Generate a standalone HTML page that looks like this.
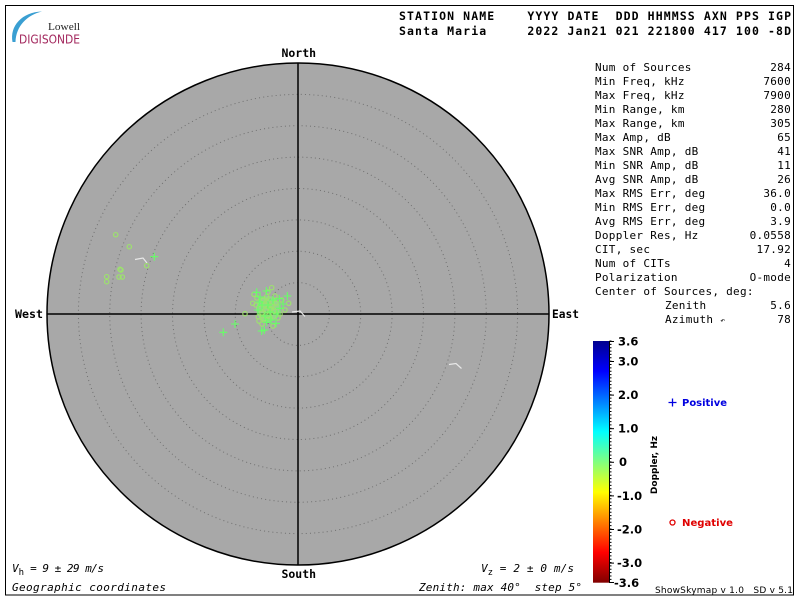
<!DOCTYPE html>
<html><head><meta charset="utf-8"><style>
html,body{margin:0;padding:0;background:#fff;}
svg{display:block;}
.m{font-family:"DejaVu Sans Mono","Liberation Mono",monospace;}
.s{font-family:"DejaVu Sans","Liberation Sans",sans-serif;}
.pre{white-space:pre;}
</style></head><body>
<svg width="800" height="600" viewBox="0 0 800 600" xmlns="http://www.w3.org/2000/svg">
<defs>
<linearGradient id="jet" x1="0" y1="0" x2="0" y2="1">
<stop offset="0" stop-color="#00008f"/>
<stop offset="0.125" stop-color="#0000ff"/>
<stop offset="0.375" stop-color="#00ffff"/>
<stop offset="0.5" stop-color="#80ff80"/>
<stop offset="0.625" stop-color="#ffff00"/>
<stop offset="0.875" stop-color="#ff0000"/>
<stop offset="1" stop-color="#800000"/>
</linearGradient>
</defs>
<rect x="0" y="0" width="800" height="600" fill="#fff"/>
<rect x="5.5" y="5.5" width="788" height="589.5" fill="none" stroke="#000" stroke-width="1"/>

<!-- logo -->
<path d="M12.5,42 C9.5,26 22,12 42,11.5 C27,15 16,26 15.5,42 Z" fill="#3a9fd2"/>
<text x="48" y="30" font-family="Liberation Serif,serif" font-size="10.5" fill="#222" textLength="32" lengthAdjust="spacingAndGlyphs">Lowell</text>
<text x="19" y="43.5" class="s" font-size="12" fill="#a3285e" textLength="61" lengthAdjust="spacingAndGlyphs">DIGISONDE</text>

<!-- header -->
<text x="399" y="20" class="m pre" font-size="11.5" font-weight="bold" textLength="392" lengthAdjust="spacing">STATION NAME    YYYY DATE  DDD HHMMSS AXN PPS IGP</text>
<text x="399" y="35" class="m pre" font-size="11.5" font-weight="bold" textLength="392" lengthAdjust="spacing">Santa Maria     2022 Jan21 021 221800 417 100 -8D</text>

<!-- skymap disk -->
<circle cx="298" cy="314" r="251" fill="#a8a8a8"/>
<g fill="none" stroke="#707070" stroke-width="1" stroke-dasharray="1 3.2">
<circle cx="298" cy="314" r="31.4"/>
<circle cx="298" cy="314" r="62.75"/>
<circle cx="298" cy="314" r="94.1"/>
<circle cx="298" cy="314" r="125.5"/>
<circle cx="298" cy="314" r="156.9"/>
<circle cx="298" cy="314" r="188.25"/>
<circle cx="298" cy="314" r="219.6"/>
</g>
<circle cx="298" cy="314" r="251" fill="none" stroke="#000" stroke-width="1.5"/>
<line x1="298" y1="63" x2="298" y2="565" stroke="#000" stroke-width="1.5"/>
<line x1="47" y1="314" x2="549" y2="314" stroke="#000" stroke-width="1.5"/>

<!-- white trails -->
<g fill="none" stroke="#e8e8e8" stroke-width="1.2">
<polyline points="135,259.5 143,258 147,263"/>
<polyline points="292,312 300,311 305,316.5"/>
<polyline points="449,364.5 456,363.5 461.5,368.5"/>
</g>

<!-- core blob -->
<ellipse cx="268" cy="309" rx="12" ry="13" fill="#8ff07a" opacity="0.6"/>

<!-- circles (negative) -->
<g fill="none" stroke="#9ce56a" stroke-width="1.1">
<circle cx="115.7" cy="234.7" r="2.2"/>
<circle cx="129.3" cy="246.7" r="2.2"/>
<circle cx="146.7" cy="265.7" r="2.2"/>
<circle cx="120" cy="269.3" r="2.2"/>
<circle cx="121" cy="270" r="2.2"/>
<circle cx="106.7" cy="276.7" r="2.2"/>
<circle cx="106.7" cy="281.7" r="2.2"/>
<circle cx="119" cy="277" r="2.2"/>
<circle cx="122.3" cy="277" r="2.2"/>
<circle cx="254" cy="294.3" r="2.2"/>
<circle cx="271.7" cy="287.7" r="2.2"/>
<circle cx="266.7" cy="296.7" r="2.2"/>
<circle cx="281.7" cy="300" r="2.2"/>
<circle cx="288.7" cy="303.3" r="2.2"/>
<circle cx="252.7" cy="303.3" r="2.2"/>
<circle cx="245" cy="313.7" r="2.2"/>
<circle cx="258.3" cy="316.7" r="2.2"/>
<circle cx="280" cy="314" r="2.2"/>
<circle cx="263" cy="300" r="2.2"/>
<circle cx="268" cy="302" r="2.2"/>
<circle cx="272" cy="306" r="2.2"/>
<circle cx="260" cy="308" r="2.2"/>
<circle cx="266" cy="310" r="2.2"/>
<circle cx="274" cy="311" r="2.2"/>
<circle cx="262" cy="313" r="2.2"/>
<circle cx="269" cy="315" r="2.2"/>
<circle cx="256" cy="305" r="2.2"/>
<circle cx="276" cy="303" r="2.2"/>
<circle cx="264" cy="319" r="2.2"/>
<circle cx="270" cy="318" r="2.2"/>
<circle cx="278" cy="318" r="2.2"/>
<circle cx="262" cy="324" r="2.2"/>
<circle cx="257" cy="298" r="2.2"/>
<circle cx="275" cy="296" r="2.2"/>
<circle cx="268" cy="292" r="2.2"/>
<circle cx="285" cy="310" r="2.2"/>
<circle cx="273" cy="326" r="2.2"/>
<circle cx="259" cy="321" r="2.2"/>
<circle cx="271" cy="309" r="2.2"/>
<circle cx="265" cy="305" r="2.2"/>
</g>

<!-- plus (positive) -->
<g fill="none" stroke="#66ff66" stroke-width="1.1">
<path d="M150.3,256.7h8M154.3,252.7v8"/>
<path d="M252.7,292.3h8M256.7,288.3v8"/>
<path d="M262.3,291h8M266.3,287v8"/>
<path d="M275.3,298.7h8M279.3,294.7v8"/>
<path d="M283.3,296h8M287.3,292v8"/>
<path d="M255.3,302h8M259.3,298v8"/>
<path d="M276,308.3h8M280,304.3v8"/>
<path d="M231,324h8M235,320v8"/>
<path d="M219.3,332.3h8M223.3,328.3v8"/>
<path d="M257.7,331h8M261.7,327v8"/>
<path d="M260.3,330h8M264.3,326v8"/>
<path d="M262.7,322.3h8M266.7,318.3v8"/>
<path d="M272,323.3h8M276,319.3v8"/>
<path d="M258,305h8M262,301v8"/>
<path d="M266,312h8M270,308v8"/>
<path d="M269,300h8M273,296v8"/>
<path d="M261,316h8M265,312v8"/>
<path d="M254,310h8M258,306v8"/>
<path d="M273,314h8M277,310v8"/>
<path d="M264,305h8M268,301v8"/>
<path d="M267,320h8M271,316v8"/>
<path d="M279,304h8M283,300v8"/>
<path d="M256,297h8M260,293v8"/>
</g>

<!-- compass labels -->
<text x="281.5" y="57" class="m" font-size="11.5" font-weight="bold" textLength="34.5" lengthAdjust="spacingAndGlyphs">North</text>
<text x="281.5" y="578" class="m" font-size="11.5" font-weight="bold" textLength="34.5" lengthAdjust="spacingAndGlyphs">South</text>
<text x="15" y="318" class="m" font-size="11.5" font-weight="bold" textLength="28" lengthAdjust="spacingAndGlyphs">West</text>
<text x="552" y="318" class="m" font-size="11.5" font-weight="bold" textLength="27" lengthAdjust="spacingAndGlyphs">East</text>

<!-- bottom-left / bottom info -->
<text x="12" y="572" class="m pre" font-size="11" font-style="italic">V<tspan font-size="9" font-style="normal" dy="3">h</tspan><tspan dy="-3" textLength="80" lengthAdjust="spacing"> = 9 ± 29 m/s</tspan></text>
<text x="12" y="591" class="m pre" font-size="11" font-style="italic" textLength="154" lengthAdjust="spacing">Geographic coordinates</text>
<text x="481" y="572" class="m pre" font-size="11" font-style="italic">V<tspan font-size="9" font-style="normal" dy="3">z</tspan><tspan dy="-3" textLength="81" lengthAdjust="spacing"> = 2 ± 0 m/s</tspan></text>
<text x="419" y="591" class="m pre" font-size="11" font-style="italic" textLength="163" lengthAdjust="spacing">Zenith: max 40°  step 5°</text>

<!-- stats -->
<g class="m pre" font-size="11" letter-spacing="0.28" fill="#000">
<text x="595" y="71">Num of Sources</text>
<text x="595" y="85">Min Freq, kHz</text>
<text x="595" y="99">Max Freq, kHz</text>
<text x="595" y="113">Min Range, km</text>
<text x="595" y="127">Max Range, km</text>
<text x="595" y="141">Max Amp, dB</text>
<text x="595" y="155">Max SNR Amp, dB</text>
<text x="595" y="169">Min SNR Amp, dB</text>
<text x="595" y="183">Avg SNR Amp, dB</text>
<text x="595" y="197">Max RMS Err, deg</text>
<text x="595" y="211">Min RMS Err, deg</text>
<text x="595" y="225">Avg RMS Err, deg</text>
<text x="595" y="239">Doppler Res, Hz</text>
<text x="595" y="253">CIT, sec</text>
<text x="595" y="267">Num of CITs</text>
<text x="595" y="281">Polarization</text>
<text x="595" y="295">Center of Sources, deg:</text>
<text x="665" y="309">Zenith</text>
<text x="665" y="323">Azimuth <tspan font-size="8">↶</tspan></text>
</g>
<g class="m" font-size="11" letter-spacing="0.28" text-anchor="end" fill="#000">
<text x="791" y="71">284</text>
<text x="791" y="85">7600</text>
<text x="791" y="99">7900</text>
<text x="791" y="113">280</text>
<text x="791" y="127">305</text>
<text x="791" y="141">65</text>
<text x="791" y="155">41</text>
<text x="791" y="169">11</text>
<text x="791" y="183">26</text>
<text x="791" y="197">36.0</text>
<text x="791" y="211">0.0</text>
<text x="791" y="225">3.9</text>
<text x="791" y="239">0.0558</text>
<text x="791" y="253">17.92</text>
<text x="791" y="267">4</text>
<text x="791" y="281">O-mode</text>
<text x="791" y="309">5.6</text>
<text x="791" y="323">78</text>
</g>

<!-- colorbar -->
<rect x="593" y="341" width="16" height="241.7" fill="url(#jet)"/>
<line x1="609.5" y1="341" x2="609.5" y2="583" stroke="#000" stroke-width="1"/>
<line x1="610.5" y1="340.5" x2="610.5" y2="583" stroke="#000" stroke-width="2" stroke-dasharray="1 2.357"/>
<g stroke="#000" stroke-width="1">
<line x1="609" y1="341.5" x2="614" y2="341.5"/>
<line x1="609" y1="361.5" x2="614" y2="361.5"/>
<line x1="609" y1="395.1" x2="614" y2="395.1"/>
<line x1="609" y1="428.7" x2="614" y2="428.7"/>
<line x1="609" y1="462.3" x2="614" y2="462.3"/>
<line x1="609" y1="495.9" x2="614" y2="495.9"/>
<line x1="609" y1="529.5" x2="614" y2="529.5"/>
<line x1="609" y1="563.1" x2="614" y2="563.1"/>
<line x1="609" y1="582.5" x2="614" y2="582.5"/>
</g>
<g class="s" font-size="11.5" font-weight="bold" fill="#000">
<text x="618" y="345.5">3.6</text>
<text x="618" y="365.5">3.0</text>
<text x="618" y="399">2.0</text>
<text x="618" y="432.5">1.0</text>
<text x="619" y="466">0</text>
<text x="617" y="500">-1.0</text>
<text x="617" y="533.5">-2.0</text>
<text x="617" y="567">-3.0</text>
<text x="614" y="587">-3.6</text>
</g>
<text transform="translate(657,465) rotate(-90)" class="s" font-size="9" font-weight="bold" text-anchor="middle">Doppler, Hz</text>

<!-- legend -->
<path d="M668.5,402.5h8M672.5,398.5v8" stroke="#0000e0" stroke-width="1.3" fill="none"/>
<text x="682" y="406" class="s" font-size="10" font-weight="bold" fill="#0000e0" textLength="45" lengthAdjust="spacingAndGlyphs">Positive</text>
<circle cx="672.5" cy="522.5" r="2.5" fill="none" stroke="#e00000" stroke-width="1.3"/>
<text x="682" y="526" class="s" font-size="10" font-weight="bold" fill="#e00000" textLength="51" lengthAdjust="spacingAndGlyphs">Negative</text>

<text x="655" y="593" class="s pre" font-size="9" textLength="138" lengthAdjust="spacing">ShowSkymap v 1.0   SD v 5.1</text>
</svg>
</body></html>
